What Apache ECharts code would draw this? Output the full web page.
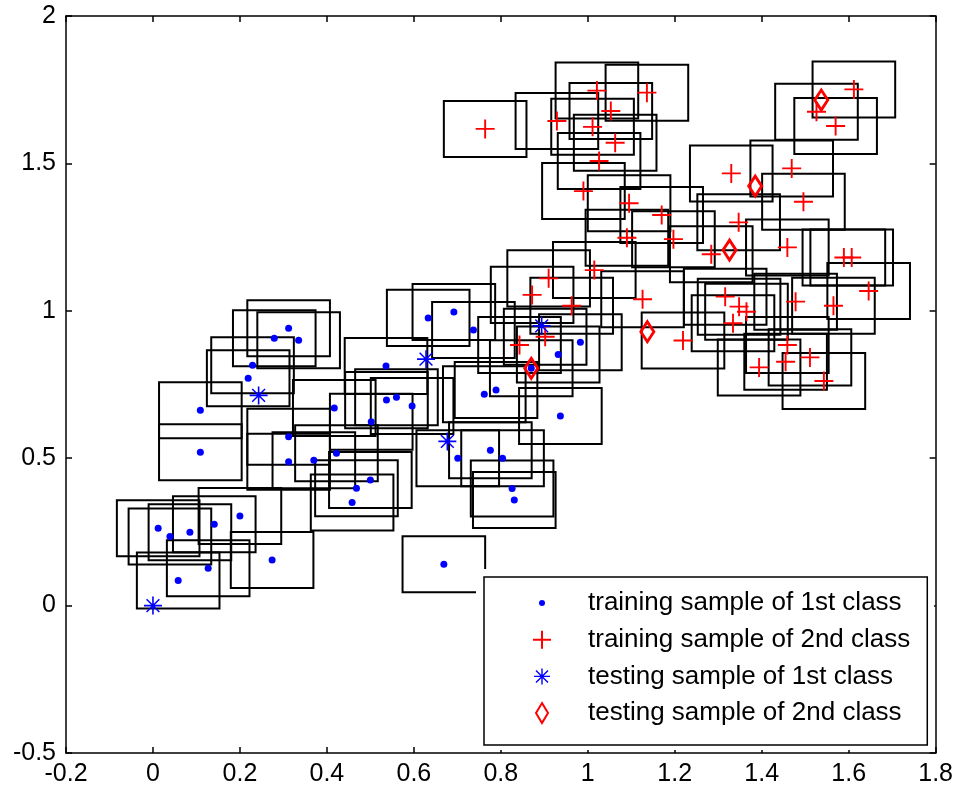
<!DOCTYPE html>
<html>
<head>
<meta charset="utf-8">
<script src="https://cdn.jsdelivr.net/npm/echarts@6/dist/echarts.min.js"></script>
<style>
  html, body { margin: 0; padding: 0; background: #fff; }
  #chart { width: 956px; height: 794px; }
</style>
</head>
<body>
<div id="chart"></div>
<script>
// training sample of 1st class
var train1 = [
  [0.012, 0.262], [0.039, 0.234], [0.085, 0.249], [0.141, 0.276], [0.200, 0.304],
  [0.274, 0.155], [0.127, 0.127], [0.058, 0.085], [0.312, 0.941], [0.279, 0.907],
  [0.335, 0.900], [0.229, 0.815], [0.219, 0.771], [0.109, 0.663], [0.109, 0.520],
  [0.417, 0.670], [0.312, 0.573], [0.312, 0.488], [0.370, 0.493], [0.422, 0.517],
  [0.692, 0.996], [0.633, 0.976], [0.737, 0.935], [0.536, 0.813], [0.537, 0.697],
  [0.560, 0.707], [0.596, 0.677], [0.502, 0.624], [0.762, 0.717], [0.789, 0.731],
  [0.701, 0.500], [0.500, 0.426], [0.468, 0.398], [0.458, 0.350], [0.983, 0.893],
  [0.932, 0.852], [0.870, 0.805], [0.937, 0.643], [0.776, 0.527], [0.804, 0.500],
  [0.826, 0.397], [0.831, 0.358], [0.669, 0.140]
]
// training sample of 2nd class
var train2 = [
  [0.764, 1.617], [1.021, 1.747], [1.136, 1.740], [1.053, 1.678], [0.929, 1.644],
  [1.011, 1.624], [1.063, 1.570], [1.026, 1.508], [0.990, 1.406], [1.095, 1.365],
  [1.170, 1.325], [1.090, 1.248], [1.197, 1.243], [1.015, 1.138], [0.910, 1.110],
  [1.612, 1.751], [1.526, 1.675], [1.570, 1.627], [1.330, 1.466], [1.469, 1.483],
  [1.496, 1.370], [1.347, 1.300], [1.459, 1.215], [1.284, 1.192], [1.589, 1.181],
  [1.607, 1.181], [1.646, 1.067], [1.478, 1.031], [1.565, 1.017], [1.316, 1.048],
  [1.348, 1.014], [1.365, 0.997], [1.334, 0.958], [1.219, 0.899], [1.459, 0.884],
  [1.511, 0.842], [1.455, 0.827], [1.394, 0.808], [1.543, 0.762], [0.872, 1.054],
  [0.963, 1.017], [1.126, 1.039], [0.902, 0.912], [0.843, 0.884]
]
// testing samples
var test1 = [[0.000, 0.000], [0.243, 0.713], [0.628, 0.836], [0.677, 0.557], [0.894, 0.949]]
var test2 = [[0.870, 0.805], [1.137, 0.929], [1.326, 1.206], [1.385, 1.423], [1.537, 1.715]]

var xTicks = [-0.2, 1.8, 0.2] // min, max, step
var yTicks = [-0.5, 2, 0.5]
var boxSize = 0.19

var names = [
  'training sample of 1st class',
  'training sample of 2nd class',
  'testing sample of 1st class',
  'testing sample of 2nd class'
]

var plusPath = 'path://M9 0H11V9H20V11H11V20H9V11H0V9H9Z'
var starPath = 'path://M8.2 0H9.8V18H8.2Z M0 8.2H18V9.8H0Z ' +
  'M3.13 2.07L15.93 14.87L14.87 15.93L2.07 3.13Z M14.87 2.07L15.93 3.13L3.13 15.93L2.07 14.87Z'
// legend icons: 82x22 slot, mark in the middle
var dotIcon = 'path://M0 0M82 22M38 11a3 3 0 1 0 6 0a3 3 0 1 0 -6 0Z'
var plusIcon = 'path://M0 0M82 22M40 2H42V10H50V12H42V20H40V12H32V10H40Z'
var starIcon = 'path://M0 0M82 22M40.3 3H41.7V19H40.3Z M33 10.3H49V11.7H33Z ' +
  'M35.5 4.5L47.5 16.5L46.5 17.5L34.5 5.5Z M46.5 4.5L47.5 5.5L35.5 17.5L34.5 16.5Z'
var diamondIcon = 'path://M0 0M82 22M41 1L47 11L41 21L35 11Z'

function fmt(v) {
  return String(+(+v).toFixed(1))
}

var chart = echarts.init(document.getElementById('chart'))

var axisCommon = {
  type: 'value',
  axisLine: { show: true, onZero: false, lineStyle: { color: '#000', width: 1.5 } },
  axisTick: { show: true, inside: true, length: 6, lineStyle: { color: '#000', width: 1.5 } },
  splitLine: { show: false }
}
var labelStyle = {
  color: '#000',
  fontFamily: 'Liberation Sans',
  fontSize: 25
}

chart.setOption({
  backgroundColor: '#fff',
  animation: false,
  grid: { left: 66, right: 19, top: 16, bottom: 41 },
  xAxis: [
    Object.assign({}, axisCommon, {
      position: 'bottom', min: xTicks[0], max: xTicks[1], interval: xTicks[2],
      axisLabel: Object.assign({ margin: 9, formatter: fmt }, labelStyle)
    }),
    Object.assign({}, axisCommon, {
      position: 'top', min: xTicks[0], max: xTicks[1], interval: xTicks[2],
      axisLabel: { show: false }
    })
  ],
  yAxis: [
    Object.assign({}, axisCommon, {
      position: 'left', min: yTicks[0], max: yTicks[1], interval: yTicks[2],
      axisLabel: Object.assign({ margin: 10, formatter: fmt }, labelStyle)
    }),
    Object.assign({}, axisCommon, {
      position: 'right', min: yTicks[0], max: yTicks[1], interval: yTicks[2],
      axisLabel: { show: false }
    })
  ],
  legend: {
    orient: 'vertical',
    left: 484,
    top: 577,
    padding: [13, 17, 19, 16],
    itemWidth: 82,
    itemHeight: 22,
    itemGap: 10.7,
    backgroundColor: '#fff',
    borderColor: '#000',
    borderWidth: 1.5,
    borderRadius: 0,
    z: 20,
    textStyle: { color: '#000', fontFamily: 'Liberation Sans', fontSize: 26, lineHeight: 26 },
    data: [
      { name: names[0], icon: dotIcon, itemStyle: { color: '#0000ff' } },
      { name: names[1], icon: plusIcon, itemStyle: { color: '#ff0000' } },
      { name: names[2], icon: starIcon, itemStyle: { color: '#0000ff' } },
      { name: names[3], icon: diamondIcon, itemStyle: { color: '#fff', borderColor: '#ff0000', borderWidth: 2 } }
    ]
  },
  graphic: [{
    type: 'rect',
    z: 15,
    shape: { x: 476, y: 569, width: 458, height: 181 },
    style: { fill: '#fff' }
  }],
  series: [
    {
      name: 'boxes',
      type: 'custom',
      z: 1,
      clip: true,
      silent: true,
      data: train1.concat(train2),
      renderItem: function (params, api) {
        var h = boxSize / 2
        var p = api.coord([api.value(0) - h, api.value(1) + h])
        var s = api.size([boxSize, boxSize])
        return {
          type: 'rect',
          shape: { x: p[0], y: p[1], width: s[0], height: s[1] },
          style: { fill: 'none', stroke: '#000', lineWidth: 2 }
        }
      }
    },
    {
      name: names[0],
      type: 'scatter',
      z: 3,
      symbol: 'circle',
      symbolSize: 7,
      itemStyle: { color: '#0000ff', opacity: 1 },
      data: train1
    },
    {
      name: names[1],
      type: 'scatter',
      z: 3,
      symbol: plusPath,
      symbolSize: 19,
      itemStyle: { color: '#ff0000', opacity: 1 },
      data: train2
    },
    {
      name: names[2],
      type: 'scatter',
      z: 4,
      symbol: starPath,
      symbolSize: 18,
      itemStyle: { color: '#0000ff', opacity: 1 },
      data: test1
    },
    {
      name: names[3],
      type: 'scatter',
      z: 4,
      symbol: 'diamond',
      symbolSize: [13, 20],
      itemStyle: { color: 'rgba(255,255,255,0)', borderColor: '#ff0000', borderWidth: 3, opacity: 1 },
      data: test2
    }
  ]
})
</script>
</body>
</html>
